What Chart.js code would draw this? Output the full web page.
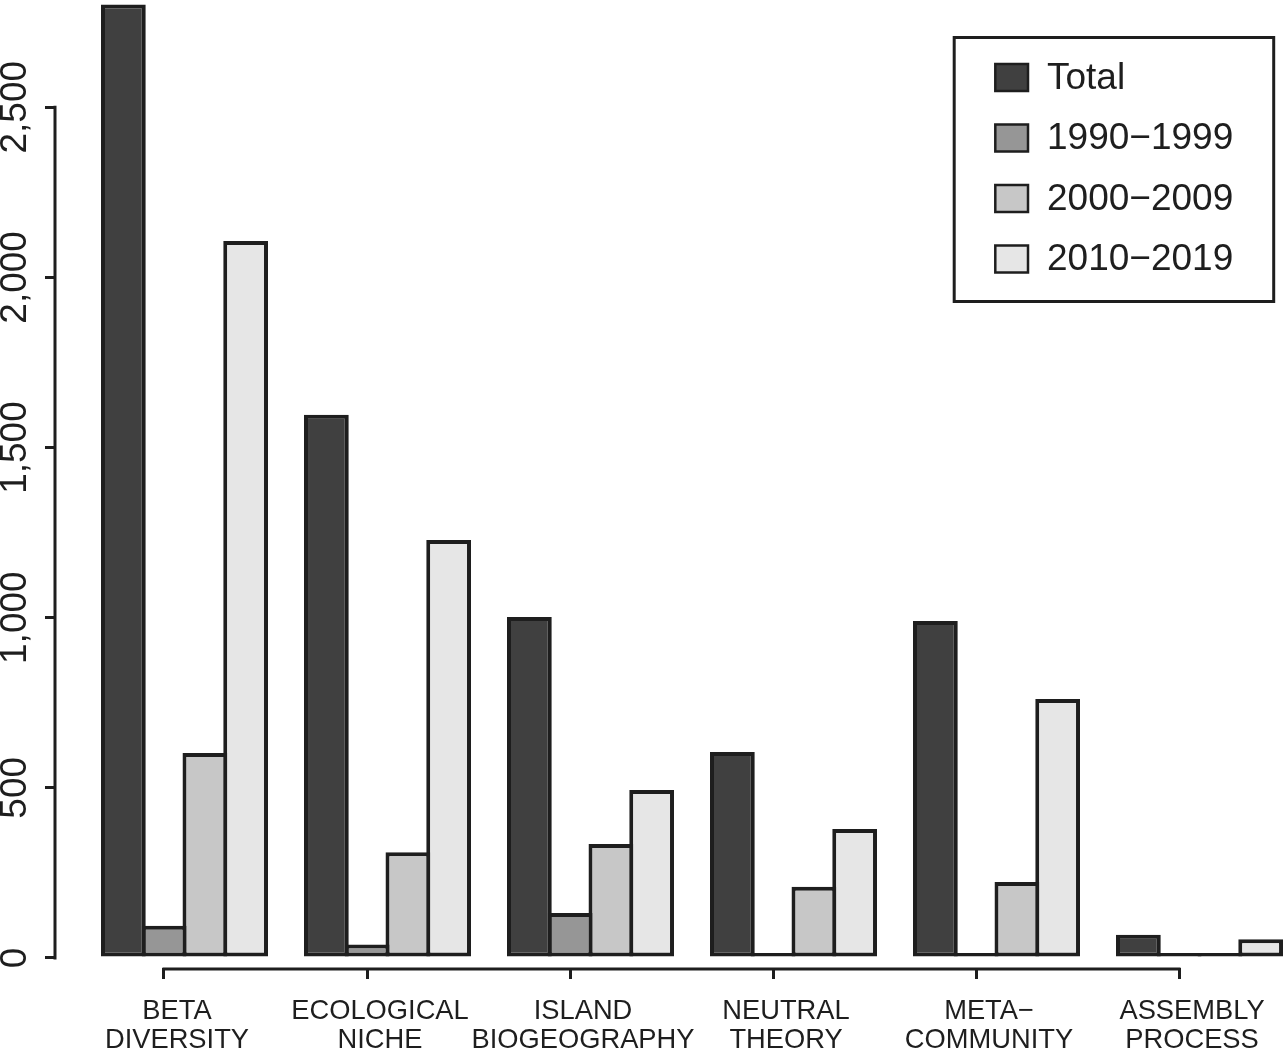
<!DOCTYPE html>
<html>
<head>
<meta charset="utf-8">
<script src="https://cdn.jsdelivr.net/npm/chart.js@4.4.0/dist/chart.umd.min.js"></script>
<style>
  html, body { margin: 0; padding: 0; background: #fff; }
</style>
</head>
<body>
<canvas id="chart" width="1286" height="1053"></canvas>
<script>
// categories (two-line labels) and series
const topics = [['BETA', 'DIVERSITY'], ['ECOLOGICAL', 'NICHE'], ['ISLAND', 'BIOGEOGRAPHY'],
                ['NEUTRAL', 'THEORY'], ['META\u2212', 'COMMUNITY'], ['ASSEMBLY', 'PROCESS']];
const seriesNames = ['Total', '1990\u22121999', '2000\u22122009', '2010\u22122019'];
const total = [2802, 1596, 1002, 605, 990, 68];
const d1990 = [95, 40, 132, 13, 9, 2];
const d2000 = [602, 311, 335, 209, 223, 9];
const d2010 = [2107, 1228, 494, 379, 761, 55];
const yTicks = [0, 500, 1000, 1500, 2000, 2500];

const fills = ['#404040', '#969696', '#c7c7c7', '#e6e6e6'];
const ink = '#1e1e1e';
const font = '"Liberation Sans", Arial, Helvetica, sans-serif';
Chart.defaults.font.family = font;
Chart.defaults.color = ink;

const datasets = [total, d1990, d2000, d2010].map((vals, k) => ({
    label: seriesNames[k],
    data: vals.map((v, i) => ({ x: i, y: v })),
    backgroundColor: fills[k],
    borderColor: ink,
    borderWidth: 4,
    borderSkipped: false,
    inflateAmount: 0,
    minBarLength: 5,
    categoryPercentage: 0.803,
    barPercentage: 1.0985
}));

// R-style axis lines: only between first and last tick
const rAxes = {
    id: 'rAxes',
    afterDraw(chart) {
        const { ctx, scales: { x, y } } = chart;
        ctx.save();
        ctx.strokeStyle = ink;
        ctx.lineWidth = 3;
        ctx.lineCap = 'square';
        ctx.beginPath();
        ctx.moveTo(y.right - 1, y.getPixelForValue(yTicks[0]));
        ctx.lineTo(y.right - 1, y.getPixelForValue(yTicks[yTicks.length - 1]));
        ctx.moveTo(x.getPixelForTick(0), x.top + 1);
        ctx.lineTo(x.getPixelForTick(x.ticks.length - 1), x.top + 1);
        ctx.stroke();
        ctx.restore();
    }
};

// boxed legend, top right
const boxLegend = {
    id: 'boxLegend',
    afterDraw(chart) {
        const ctx = chart.ctx;
        ctx.save();
        ctx.strokeStyle = ink;
        ctx.lineWidth = 3;
        ctx.strokeRect(954.2, 37.5, 319.5, 264);
        ctx.font = '37px ' + font;
        ctx.textBaseline = 'middle';
        chart.data.datasets.forEach((ds, k) => {
            const cy = 77.5 + k * 60.5;
            ctx.fillStyle = ds.backgroundColor;
            ctx.fillRect(995.3, cy - 13.5, 32.7, 27);
            ctx.lineWidth = 2.5;
            ctx.strokeRect(995.3, cy - 13.5, 32.7, 27);
            ctx.fillStyle = ink;
            ctx.fillText(ds.label, 1047, cy + 1);
        });
        ctx.restore();
    }
};

new Chart(document.getElementById('chart'), {
    type: 'bar',
    data: { datasets },
    plugins: [rAxes, boxLegend],
    options: {
        responsive: false,
        devicePixelRatio: 1,
        animation: false,
        layout: { padding: 0 },
        plugins: { legend: { display: false }, tooltip: { enabled: false } },
        scales: {
            x: {
                type: 'linear',
                min: -0.633,
                max: 5.426,
                offset: false,
                afterBuildTicks: s => { s.ticks = topics.map((t, i) => ({ value: i - 0.101 })); },
                afterFit: s => { s.height = 85; s.paddingLeft = 0; s.paddingRight = 0; },
                border: { display: false },
                grid: {
                    offset: false, drawOnChartArea: false, drawTicks: true,
                    tickLength: 11, tickWidth: 3, tickColor: ink, color: ink, lineWidth: 3
                },
                ticks: {
                    autoSkip: false, minRotation: 0, maxRotation: 0,
                    labelOffset: 13, padding: 17.5, color: ink,
                    font: { size: 27.3, lineHeight: 1.07 },
                    callback: (v, i) => topics[i]
                }
            },
            y: {
                type: 'linear',
                min: -29.4,
                max: 2815,
                afterBuildTicks: s => { s.ticks = yTicks.map(v => ({ value: v })); },
                afterFit: s => { s.width = 56; s.paddingTop = 0; s.paddingBottom = 0; },
                border: { display: false },
                grid: {
                    drawOnChartArea: false, drawTicks: true,
                    tickLength: 11, tickWidth: 3, tickColor: ink, color: ink, lineWidth: 3
                },
                ticks: {
                    minRotation: 90, maxRotation: 90, crossAlign: 'center',
                    padding: -17.5, color: ink,
                    font: { size: 37 },
                    callback: v => v.toLocaleString('en-US')
                }
            }
        }
    }
});
</script>
</body>
</html>
